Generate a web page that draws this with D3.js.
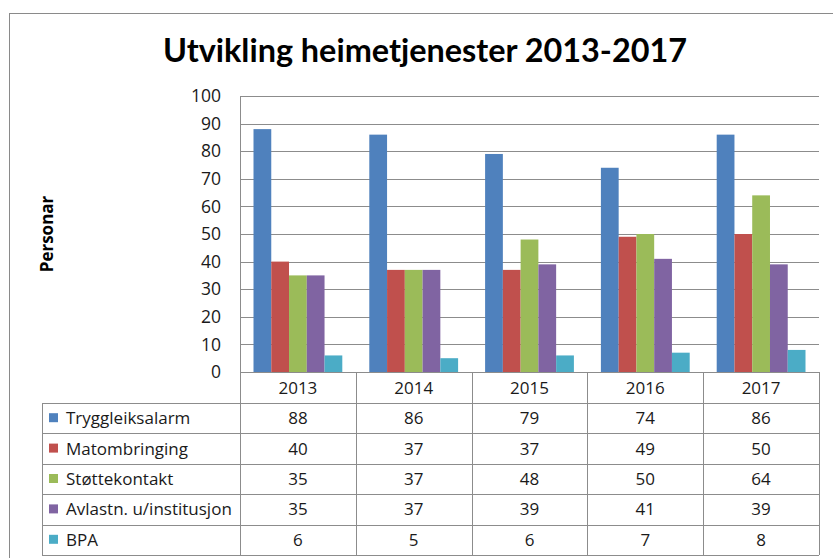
<!DOCTYPE html>
<html>
<head>
<meta charset="utf-8">
<script src="https://cdn.jsdelivr.net/npm/d3@7"></script>
<style>
  body { margin: 0; background: #fff; }
  svg { display: block; font-family: "Open Sans", sans-serif; }
</style>
</head>
<body>
<div id="main"></div>
<script>
const years = ['2013', '2014', '2015', '2016', '2017'];
const series = ['Tryggleiksalarm', 'Matombringing', 'Støttekontakt', 'Avlastn. u/institusjon', 'BPA'];
const tryggleiksalarm = [88, 86, 79, 74, 86];
const matombringing = [40, 37, 37, 49, 50];
const stottekontakt = [35, 37, 48, 50, 64];
const avlastning = [35, 37, 39, 41, 39];
const bpa = [6, 5, 6, 7, 8];
const yTicks = [0, 10, 20, 30, 40, 50, 60, 70, 80, 90, 100];

const values = [tryggleiksalarm, matombringing, stottekontakt, avlastning, bpa];
const colors = ['#4F81BD', '#C0504D', '#9BBB59', '#8064A2', '#4BACC6'];

const width = 833;
const height = 558;
const grid = '#8c8c8c';
const textColor = '#1a1a1a';

const svg = d3.select('#main').append('svg').attr('width', width).attr('height', height);

// outer chart frame (runs off the right and bottom)
svg.append('rect')
  .attr('x', 9.5).attr('y', 13.5)
  .attr('width', 900).attr('height', 600)
  .attr('fill', 'none').attr('stroke', '#8a8a8a');

svg.append('text')
  .attr('x', 425).attr('y', 62)
  .attr('text-anchor', 'middle')
  .attr('textLength', 524)
  .attr('lengthAdjust', 'spacingAndGlyphs')
  .style('font-family', 'Lato, sans-serif')
  .style('font-size', '33px').style('font-weight', 'bold').style('fill', '#000')
  .text('Utvikling heimetjenester 2013-2017');

const x = d3.scaleBand().domain(years).range([240, 819]);
const gap = 13.5;
const x1 = d3.scaleBand().domain(series).range([gap, x.bandwidth() - gap]);
const y = d3.scaleLinear().domain([0, 100]).range([372, 96]);

// gridlines
svg.append('g')
  .selectAll('line')
  .data(yTicks.filter((d) => d > 0))
  .enter()
  .append('line')
  .attr('x1', 240).attr('x2', 819)
  .attr('y1', (d) => Math.round(y(d)) + 0.5)
  .attr('y2', (d) => Math.round(y(d)) + 0.5)
  .attr('stroke', grid);

// y axis labels
const yAxis = svg.append('g')
  .attr('transform', 'translate(240,0)')
  .call(d3.axisLeft(y).tickValues(yTicks).tickSize(0).tickPadding(19));
yAxis.select('.domain').remove();
yAxis.selectAll('text')
  .style('font-family', '"Open Sans", sans-serif')
  .style('font-size', '17.5px')
  .style('fill', textColor);

svg.append('text')
  .attr('transform', 'translate(53,234) rotate(-90)')
  .attr('text-anchor', 'middle')
  .style('font-size', '17px').style('font-weight', 'bold').style('fill', '#000')
  .text('Personar');

// bars
series.forEach((name, i) => {
  svg.append('g')
    .selectAll('rect')
    .data(values[i])
    .enter()
    .append('rect')
    .attr('x', (d, j) => x(years[j]) + x1(name))
    .attr('y', (d) => y(d))
    .attr('width', x1.bandwidth())
    .attr('height', (d) => y(0) - y(d))
    .attr('fill', colors[i]);
});

// data table
const tableLeft = 42;
const headerBottom = 403;
const rowH = 30.4;
const rowY = (i) => headerBottom + i * rowH;
const tableBottom = rowY(series.length);

const table = svg.append('g');

table.append('line')
  .attr('x1', 240).attr('x2', 819)
  .attr('y1', 372.5).attr('y2', 372.5)
  .attr('stroke', grid);

d3.range(series.length + 1).forEach((i) => {
  table.append('line')
    .attr('x1', tableLeft).attr('x2', 819)
    .attr('y1', Math.round(rowY(i)) + 0.5).attr('y2', Math.round(rowY(i)) + 0.5)
    .attr('stroke', grid);
});

table.append('line')
  .attr('x1', tableLeft + 0.5).attr('x2', tableLeft + 0.5)
  .attr('y1', headerBottom).attr('y2', tableBottom)
  .attr('stroke', grid);

table.append('line')
  .attr('x1', 240.5).attr('x2', 240.5)
  .attr('y1', 96).attr('y2', tableBottom)
  .attr('stroke', grid);

years.forEach((yr) => {
  const xr = Math.round(x(yr) + x.bandwidth()) + 0.5;
  table.append('line')
    .attr('x1', xr).attr('x2', xr)
    .attr('y1', 372).attr('y2', tableBottom)
    .attr('stroke', grid);
});

table.selectAll('.year')
  .data(years)
  .enter()
  .append('text')
  .attr('x', (d) => x(d) + x.bandwidth() / 2)
  .attr('y', 394)
  .attr('text-anchor', 'middle')
  .style('font-size', '17px').style('fill', textColor)
  .text((d) => d);

series.forEach((name, i) => {
  const base = rowY(i) + rowH / 2;
  table.append('rect')
    .attr('x', 49).attr('y', base - 5)
    .attr('width', 9).attr('height', 9)
    .attr('fill', colors[i]);
  table.append('text')
    .attr('x', 66).attr('y', base + 6)
    .style('font-size', '17px').style('fill', textColor)
    .text(name);
  table.selectAll(null)
    .data(values[i])
    .enter()
    .append('text')
    .attr('x', (d, j) => x(years[j]) + x.bandwidth() / 2)
    .attr('y', base + 6)
    .attr('text-anchor', 'middle')
    .style('font-size', '17px').style('fill', textColor)
    .text((d) => d);
});
</script>
</body>
</html>
